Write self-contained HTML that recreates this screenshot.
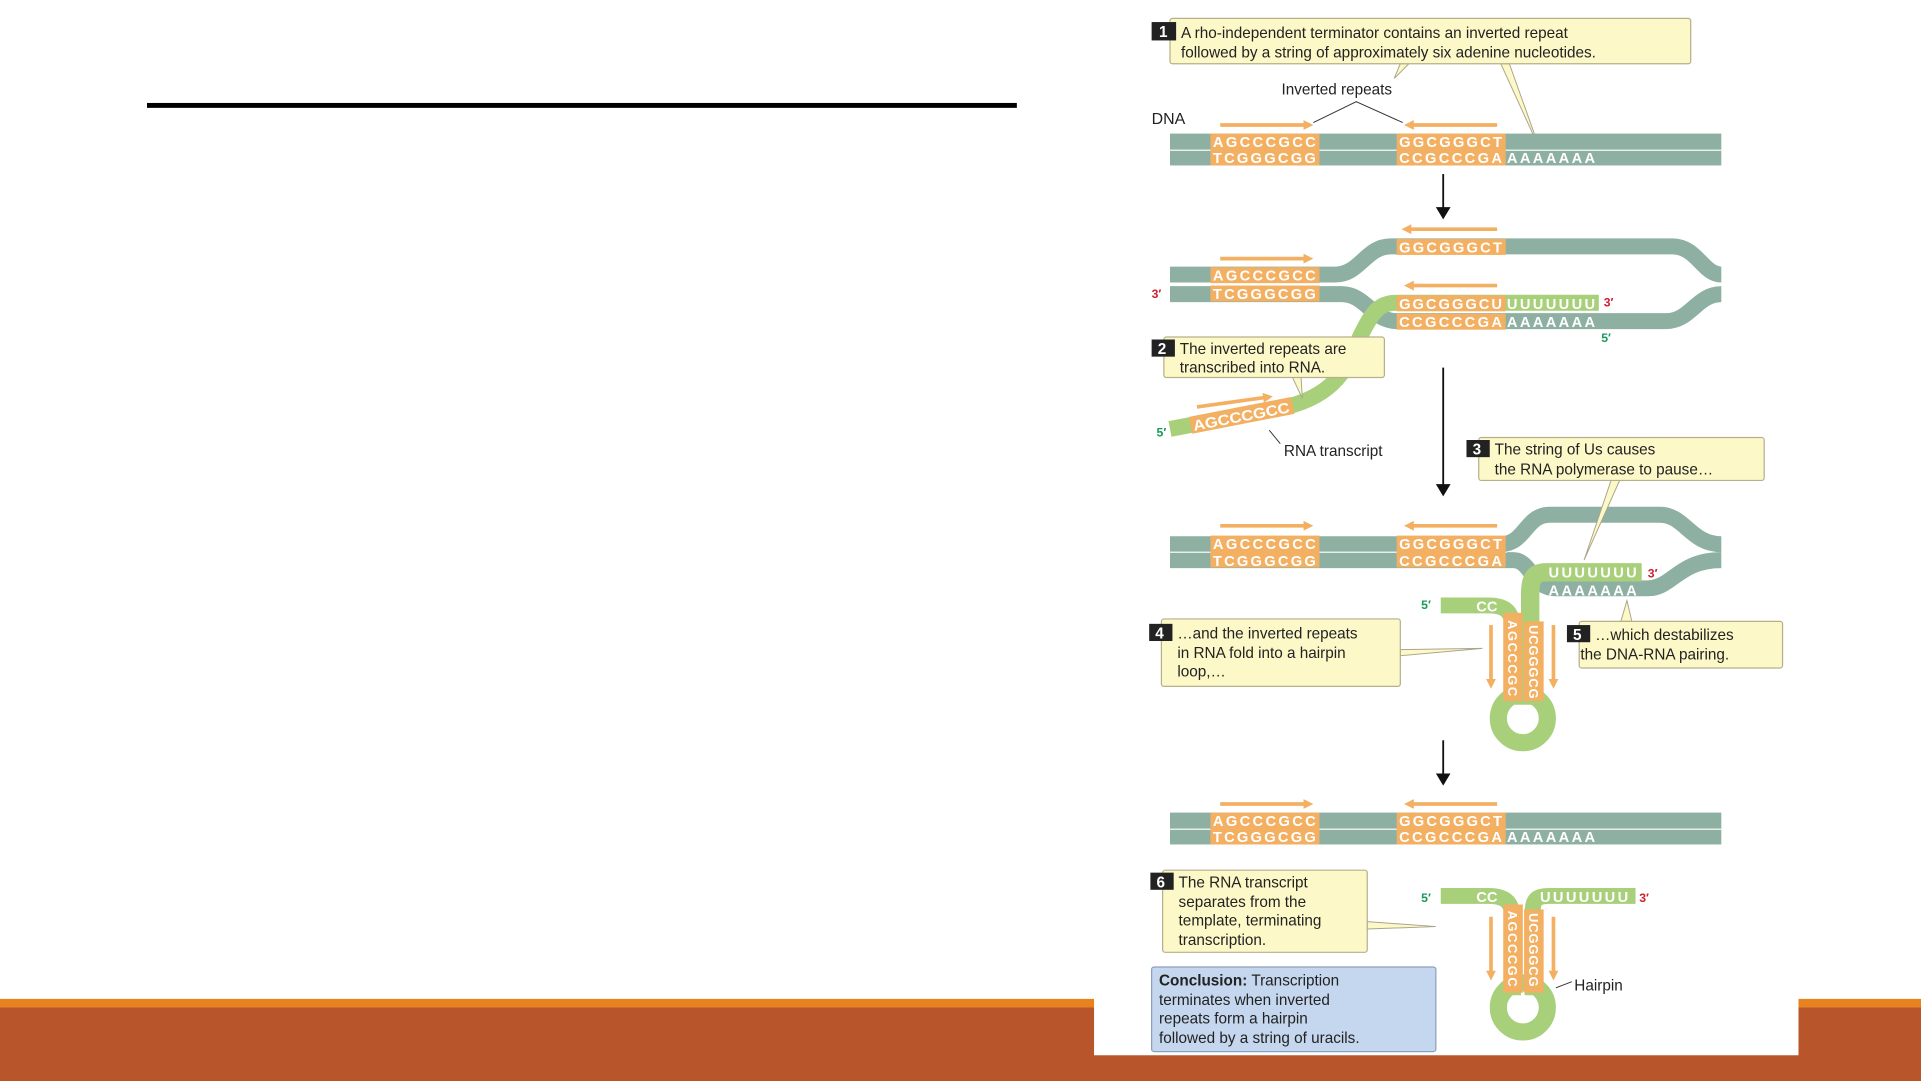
<!DOCTYPE html>
<html><head><meta charset="utf-8"><style>
html,body{margin:0;padding:0;background:#fff;}
svg{display:block}
text{font-family:"Liberation Sans",sans-serif}
</style></head><body>
<svg width="1921" height="1081" viewBox="0 0 1568 882" preserveAspectRatio="none" xmlns="http://www.w3.org/2000/svg">
<defs>
<marker id="ah" markerWidth="8" markerHeight="8" refX="4" refY="4" orient="auto" markerUnits="userSpaceOnUse"><path d="M0,0 L8,4 L0,8 Z" fill="#f3b062"/></marker>
<marker id="bh" markerWidth="10" markerHeight="12" refX="5" refY="6" orient="auto" markerUnits="userSpaceOnUse"><path d="M0,0 L10,6 L0,12 Z" fill="#111"/></marker>
</defs>
<rect width="1568" height="882" fill="#fff"/>
<rect x="120" y="84" width="710" height="4" fill="#000"/>
<rect x="0" y="815" width="1568" height="7" fill="#e8821e"/>
<rect x="0" y="822" width="1568" height="60" fill="#b8552b"/>
<rect x="893" y="0" width="575" height="861" fill="#fff"/>

<g font-size="12.5" fill="#222">
<!-- Box 1 -->
<path d="M1143,52 L1138,64 L1150,52 Z M1225,52 L1257,122 L1232,52 Z" fill="#fdf8c8" stroke="#aaa58a" stroke-width="0.8"/>
<rect x="955" y="15" width="425" height="37" rx="2" fill="#fdf8c8" stroke="#b5b08a"/>
<rect x="940" y="18" width="20" height="15" fill="#222"/><text x="946" y="30" fill="#fff" font-weight="bold">1</text>
<text x="964" y="31">A rho-independent terminator contains an inverted repeat</text>
<text x="964" y="47">followed by a string of approximately six adenine nucleotides.</text>
<text x="1046" y="77">Inverted repeats</text>
<path d="M1072,100 L1107,83 L1145,100" fill="none" stroke="#333" stroke-width="0.8"/>
<text x="940" y="101" font-size="13">DNA</text>

<g>
<rect x="955" y="109" width="450" height="26" fill="#8db0a3"/>
<rect x="955" y="122" width="450" height="1.2" fill="#e6efe9"/>
<rect x="988" y="109" width="89" height="26" fill="#f3b062"/>
<rect x="1140" y="109" width="89" height="26" fill="#f3b062"/>
<g fill="#fff" font-size="12" font-weight="bold" lengthAdjust="spacingAndGlyphs">
<text x="990" y="120" textLength="84">AGCCCGCC</text><text x="990" y="133" textLength="84">TCGGGCGG</text>
<text x="1142" y="120" textLength="84">GGCGGGCT</text><text x="1142" y="133" textLength="84">CCGCCCGA</text><text x="1230" y="133" textLength="72">AAAAAAA</text>
</g>
<line x1="996" y1="102" x2="1068" y2="102" stroke="#f3b062" stroke-width="3" marker-end="url(#ah)"/>
<line x1="1222" y1="102" x2="1150" y2="102" stroke="#f3b062" stroke-width="3" marker-end="url(#ah)"/>
</g>
<line x1="1178" y1="142" x2="1178" y2="174" stroke="#111" stroke-width="1.5" marker-end="url(#bh)"/>

<!-- Stage 2 -->
<path d="M955,224 L1090,224 C1110,224 1115,201 1135,201 L1365,201 C1385,201 1390,224 1405,224" fill="none" stroke="#8db0a3" stroke-width="13"/>
<path d="M955,240 L1095,240 C1115,240 1120,262 1140,262 L1360,262 C1380,262 1385,240 1405,240" fill="none" stroke="#8db0a3" stroke-width="13"/>
<path d="M955,350 L1050,332 C1090,322 1100,300 1110,275 C1120,255 1125,247 1140,247 L1305,247" fill="none" stroke="#a8cf7a" stroke-width="13"/>
<g transform="translate(1013,339) rotate(-11)">
<rect x="-42" y="-7" width="85" height="14" fill="#f3b062"/>
<text x="-40" y="5" fill="#fff" font-size="12" font-weight="bold" textLength="80" lengthAdjust="spacingAndGlyphs">AGCCCGCC</text>
</g>
<rect x="988" y="218" width="89" height="13" fill="#f3b062"/><rect x="988" y="233" width="89" height="13" fill="#f3b062"/>
<rect x="1140" y="195" width="89" height="13" fill="#f3b062"/>
<rect x="1140" y="241" width="89" height="13" fill="#f3b062"/>
<rect x="1140" y="256" width="89" height="13" fill="#f3b062"/>
<g fill="#fff" font-size="12" font-weight="bold" lengthAdjust="spacingAndGlyphs">
<text x="990" y="229" textLength="84">AGCCCGCC</text><text x="990" y="244" textLength="84">TCGGGCGG</text>
<text x="1142" y="206" textLength="84">GGCGGGCT</text>
<text x="1142" y="252" textLength="84">GGCGGGCU</text><text x="1230" y="252" textLength="72">UUUUUUU</text>
<text x="1142" y="267" textLength="84">CCGCCCGA</text><text x="1230" y="267" textLength="72">AAAAAAA</text>
</g>
<line x1="1147" y1="187" x2="1222" y2="187" stroke="#f3b062" stroke-width="3"/><path d="M1144,187 l8,-4 v8z" fill="#f3b062"/>
<line x1="996" y1="211" x2="1068" y2="211" stroke="#f3b062" stroke-width="3" marker-end="url(#ah)"/>
<line x1="1222" y1="233" x2="1150" y2="233" stroke="#f3b062" stroke-width="3" marker-end="url(#ah)"/>
<line x1="977" y1="332" x2="1035" y2="324" stroke="#f3b062" stroke-width="3" marker-end="url(#ah)"/>
<g font-size="10" font-weight="bold"><text x="940" y="243" fill="#d02030">3′</text><text x="1309" y="250" fill="#d02030">3′</text>
<text x="1307" y="279" fill="#1a9a5a">5′</text><text x="944" y="356" fill="#1a9a5a">5′</text></g>
<path d="M1055,308 L1063,325 L1062,308 Z" fill="#fdf8c8" stroke="#aaa58a" stroke-width="0.8"/>
<rect x="950" y="275" width="180" height="33" rx="2" fill="#fdf8c8" stroke="#b5b08a"/>
<rect x="940" y="277" width="19" height="14" fill="#222"/><text x="945" y="289" fill="#fff" font-weight="bold">2</text>
<text x="963" y="289">The inverted repeats are</text>
<text x="963" y="304">transcribed into RNA.</text>
<line x1="1036" y1="351" x2="1045" y2="362" stroke="#333" stroke-width="0.8"/>
<text x="1048" y="372">RNA transcript</text>
<line x1="1178" y1="300" x2="1178" y2="400" stroke="#111" stroke-width="1.5" marker-end="url(#bh)"/>

<!-- Stage 3 -->
<path d="M955,444 L1225,444 C1245,444 1245,420 1265,420 L1355,420 C1375,420 1380,444 1405,444" fill="none" stroke="#8db0a3" stroke-width="13"/>
<path d="M955,457 L1235,457 C1250,457 1250,480 1270,480 L1345,480 C1365,480 1370,457 1405,457" fill="none" stroke="#8db0a3" stroke-width="13"/>
<rect x="955" y="450" width="275" height="1.2" fill="#e6efe9"/>
<path d="M1340,467 L1262,467 C1250,467 1249,475 1249,485 L1249,575" fill="none" stroke="#a8cf7a" stroke-width="15"/>
<path d="M1176,494 L1215,494 C1230,494 1235,500 1235,515 L1235,575" fill="none" stroke="#a8cf7a" stroke-width="13"/>
<circle cx="1243" cy="586" r="20" fill="none" stroke="#a8cf7a" stroke-width="14"/>
<rect x="1227" y="500" width="16" height="72" fill="#f3b062"/><rect x="1244" y="507" width="16" height="65" fill="#f3b062"/>
<rect x="988" y="437" width="89" height="26" fill="#f3b062"/><rect x="1140" y="437" width="89" height="26" fill="#f3b062"/>
<g fill="#fff" font-size="12" font-weight="bold" lengthAdjust="spacingAndGlyphs">
<text x="990" y="448" textLength="84">AGCCCGCC</text><text x="990" y="462" textLength="84">TCGGGCGG</text>
<text x="1142" y="448" textLength="84">GGCGGGCT</text><text x="1142" y="462" textLength="84">CCGCCCGA</text>
<text x="1264" y="471" textLength="72">UUUUUUU</text><text x="1264" y="486" textLength="72">AAAAAAA</text>
<text x="1205" y="499">CC</text>
<text transform="translate(1231,506) rotate(90)" font-size="10.5" textLength="62">AGCCCGC</text>
<text transform="translate(1248,510) rotate(90)" font-size="10.5" textLength="60">UCGGGCG</text>
</g>
<line x1="996" y1="429" x2="1068" y2="429" stroke="#f3b062" stroke-width="3" marker-end="url(#ah)"/>
<line x1="1222" y1="429" x2="1150" y2="429" stroke="#f3b062" stroke-width="3" marker-end="url(#ah)"/>
<line x1="1217" y1="510" x2="1217" y2="558" stroke="#f3b062" stroke-width="3" marker-end="url(#ah)"/>
<line x1="1268" y1="510" x2="1268" y2="558" stroke="#f3b062" stroke-width="3" marker-end="url(#ah)"/>
<g font-size="10" font-weight="bold"><text x="1345" y="471" fill="#d02030">3′</text><text x="1160" y="497" fill="#1a9a5a">5′</text></g>
<path d="M1315,392 L1293,457 L1322,392 Z" fill="#fdf8c8" stroke="#aaa58a" stroke-width="0.8"/>
<rect x="1207" y="357" width="233" height="35" rx="2" fill="#fdf8c8" stroke="#b5b08a"/>
<rect x="1197" y="359" width="19" height="14" fill="#222"/><text x="1202" y="371" fill="#fff" font-weight="bold">3</text>
<text x="1220" y="371">The string of Us causes</text>
<text x="1220" y="387">the RNA polymerase to pause…</text>
<path d="M1143,530 L1210,529 L1143,535 Z" fill="#fdf8c8" stroke="#aaa58a" stroke-width="0.8"/>
<rect x="948" y="505" width="195" height="55" rx="2" fill="#fdf8c8" stroke="#b5b08a"/>
<rect x="938" y="509" width="19" height="14" fill="#222"/><text x="943" y="521" fill="#fff" font-weight="bold">4</text>
<text x="961" y="521">…and the inverted repeats</text>
<text x="961" y="537">in RNA fold into a hairpin</text>
<text x="961" y="552">loop,…</text>
<path d="M1323,507 L1328,490 L1332,507 Z" fill="#fdf8c8" stroke="#aaa58a" stroke-width="0.8"/>
<rect x="1289" y="507" width="166" height="38" rx="2" fill="#fdf8c8" stroke="#b5b08a"/>
<rect x="1279" y="510" width="19" height="14" fill="#222"/><text x="1284" y="522" fill="#fff" font-weight="bold">5</text>
<text x="1302" y="522">…which destabilizes</text>
<text x="1290" y="538">the DNA-RNA pairing.</text>
<line x1="1178" y1="604" x2="1178" y2="636" stroke="#111" stroke-width="1.5" marker-end="url(#bh)"/>

<!-- Stage 4 -->
<g transform="translate(0,554)">
<rect x="955" y="109" width="450" height="26" fill="#8db0a3"/>
<rect x="955" y="122" width="450" height="1.2" fill="#e6efe9"/>
<rect x="988" y="109" width="89" height="26" fill="#f3b062"/>
<rect x="1140" y="109" width="89" height="26" fill="#f3b062"/>
<g fill="#fff" font-size="12" font-weight="bold" lengthAdjust="spacingAndGlyphs">
<text x="990" y="120" textLength="84">AGCCCGCC</text><text x="990" y="133" textLength="84">TCGGGCGG</text>
<text x="1142" y="120" textLength="84">GGCGGGCT</text><text x="1142" y="133" textLength="84">CCGCCCGA</text><text x="1230" y="133" textLength="72">AAAAAAA</text>
</g>
<line x1="996" y1="102" x2="1068" y2="102" stroke="#f3b062" stroke-width="3" marker-end="url(#ah)"/>
<line x1="1222" y1="102" x2="1150" y2="102" stroke="#f3b062" stroke-width="3" marker-end="url(#ah)"/>
</g>
<path d="M1176,731 L1215,731 C1230,731 1235,737 1235,752 L1235,812" fill="none" stroke="#a8cf7a" stroke-width="13"/>
<path d="M1335,731 L1265,731 C1250,731 1251,737 1251,752 L1251,812" fill="none" stroke="#a8cf7a" stroke-width="13"/>
<circle cx="1243" cy="822" r="20" fill="none" stroke="#a8cf7a" stroke-width="14"/>
<rect x="1227" y="738" width="16" height="72" fill="#f3b062"/><rect x="1244" y="742" width="16" height="68" fill="#f3b062"/>
<g fill="#fff" font-size="12" font-weight="bold" lengthAdjust="spacingAndGlyphs">
<text x="1257" y="736" textLength="72">UUUUUUU</text><text x="1205" y="736">CC</text>
<text transform="translate(1231,743) rotate(90)" font-size="10.5" textLength="62">AGCCCGC</text>
<text transform="translate(1248,745) rotate(90)" font-size="10.5" textLength="60">UCGGGCG</text>
</g>
<line x1="1217" y1="748" x2="1217" y2="796" stroke="#f3b062" stroke-width="3" marker-end="url(#ah)"/>
<line x1="1268" y1="748" x2="1268" y2="796" stroke="#f3b062" stroke-width="3" marker-end="url(#ah)"/>
<g font-size="10" font-weight="bold"><text x="1338" y="736" fill="#d02030">3′</text><text x="1160" y="736" fill="#1a9a5a">5′</text></g>
<line x1="1270" y1="806" x2="1283" y2="801" stroke="#333" stroke-width="0.8"/>
<text x="1285" y="808">Hairpin</text>
<path d="M1116,752 L1172,756 L1116,758 Z" fill="#fdf8c8" stroke="#aaa58a" stroke-width="0.8"/>
<rect x="949" y="710" width="167" height="67" rx="2" fill="#fdf8c8" stroke="#b5b08a"/>
<rect x="939" y="712" width="19" height="14" fill="#222"/><text x="944" y="724" fill="#fff" font-weight="bold">6</text>
<text x="962" y="724">The RNA transcript</text>
<text x="962" y="740">separates from the</text>
<text x="962" y="755">template, terminating</text>
<text x="962" y="771">transcription.</text>
<rect x="940" y="789" width="232" height="69" rx="2" fill="#c5d7ee" stroke="#8da0be"/>
<text x="946" y="804"><tspan font-weight="bold">Conclusion:</tspan> Transcription</text>
<text x="946" y="820">terminates when inverted</text>
<text x="946" y="835">repeats form a hairpin</text>
<text x="946" y="851">followed by a string of uracils.</text>
</g>
</svg>
</body></html>
